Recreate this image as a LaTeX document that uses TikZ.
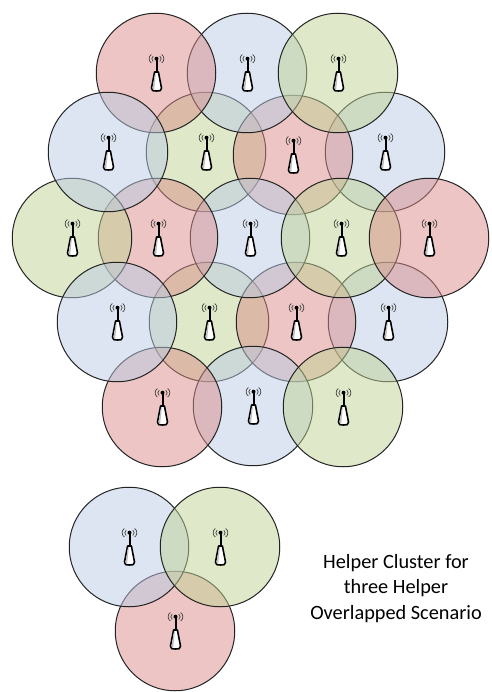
\documentclass[tikz,border=0pt]{standalone}
\usepackage{fontspec}
\setmainfont{Carlito}
\definecolor{cred}{RGB}{217,140,137}
\definecolor{cblue}{RGB}{185,203,227}
\definecolor{cgreen}{RGB}{192,210,148}
\definecolor{ringcol}{RGB}{35,35,35}
\tikzset{
  x=1pt,y=-1pt,
  cellbase/.style={circle,draw=ringcol,line width=1pt,minimum size=119.5pt,inner sep=0pt,fill opacity=0.5},
  redcell/.style={cellbase,fill=cred},
  bluecell/.style={cellbase,fill=cblue},
  greencell/.style={cellbase,fill=cgreen},
  caption/.style={align=center,font=\fontsize{20.3}{25.5}\selectfont,text=black},
  tower/.pic={
    \draw[line width=0.7pt,black!75] (-4.7,-18.5) .. controls (-7.6,-16.5) and (-7.6,-12) .. (-4.7,-10);
    \draw[line width=0.7pt,black!75] (5.7,-18.5) .. controls (8.6,-16.5) and (8.6,-12) .. (5.7,-10);
    \draw[line width=0.7pt,black!75] (-2.8,-17) .. controls (-4.6,-15.5) and (-4.6,-13) .. (-2.8,-11.5);
    \draw[line width=0.7pt,black!75] (3.8,-17) .. controls (5.6,-15.5) and (5.6,-13) .. (3.8,-11.5);
    \fill[black] (0.5,-14.3) circle[radius=2];
    \draw[line width=2pt,black] (0.5,-14.3) -- (0.5,-1);
    \draw[line width=1.6pt,black,fill=white,line join=round] (-1.4,-1) -- (2.4,-1) -- (5.5,15) .. controls (5.9,18) and (3.5,18) .. (0.5,18) .. controls (-2.5,18) and (-4.9,18) .. (-4.5,15) -- cycle;
    \fill[black!25] (-1,0.5) -- (-0.2,0.5) -- (-1.8,16.4) -- (-3.4,16.4) -- (-3.5,15) -- cycle;
  }
}
\begin{document}
\begin{tikzpicture}
\useasboundingbox (0,0) rectangle (491,692);
\foreach \nm/\st/\cx/\cy in {
 b2/greencell/206/152,b4/bluecell/385/152,d2/greencell/209/322,d4/bluecell/388/322,
 b3/redcell/293/155,d3/redcell/296/322,c3/bluecell/250/238,e2/bluecell/253/406,
 a2/bluecell/247/73,c4/greencell/341/238,c5/redcell/429/238,e3/greencell/343/407,
 a3/greencell/338/73,c2/redcell/158/238,e1/redcell/162/407,c1/greencell/72/238,
 a1/redcell/156/73,b1/bluecell/108/152,d1/bluecell/117/322,
 f3/redcell/175/631,f1/bluecell/129/547,f2/greencell/220/547}{
  \node[\st] (\nm) at (\cx,\cy) {};
}
\foreach \nm in {a1,a2,a3,b1,b2,b3,b4,c1,c2,c3,c4,c5,d1,d2,d3,d4,e1,e2,e3,f1,f2,f3}{
  \pic at (\nm.center) {tower};
}
\node[caption] (cap) at (396,588.5) {Helper Cluster for\\three Helper\\Overlapped Scenario};
\end{tikzpicture}
\end{document}
